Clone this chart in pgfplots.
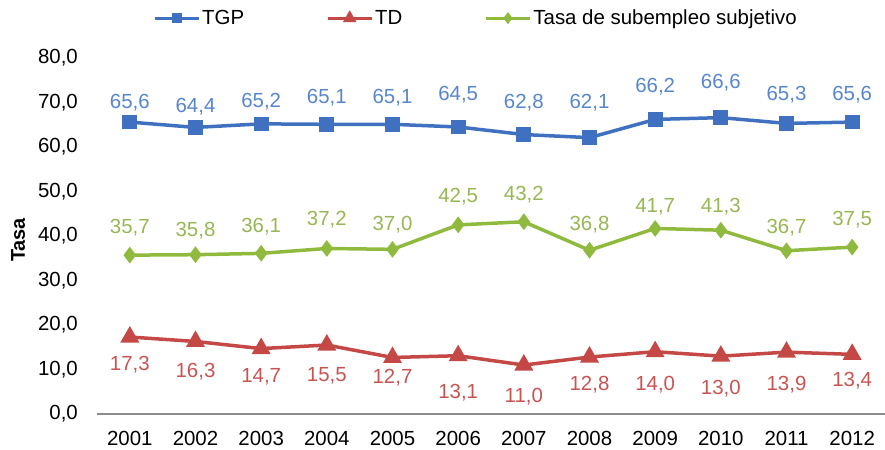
\documentclass[border=0pt]{standalone}
\usepackage{pgfplots}
\usepackage{pgfplotstable}
\pgfplotsset{compat=1.18}
\usepackage{fontspec}
\setmainfont{Liberation Sans}
\definecolor{tgp}{RGB}{64,112,192}
\definecolor{tgplab}{RGB}{88,134,204}
\definecolor{td}{RGB}{196,72,70}
\definecolor{tdlab}{RGB}{200,84,82}
\definecolor{sub}{RGB}{144,186,62}
\definecolor{sublab}{RGB}{152,182,84}

\pgfplotstableread{
x y ly
0 65.6 69.9
1 64.4 69.0
2 65.2 70.1
3 65.1 71.0
4 65.1 71.0
5 64.5 71.7
6 62.8 69.9
7 62.1 69.9
8 66.2 73.5
9 66.6 74.4
10 65.3 71.7
11 65.6 71.7
}\tgp

\pgfplotstableread{
x y ly
0 17.3 11.0
1 16.3 9.4
2 14.7 8.3
3 15.5 8.5
4 12.7 8.1
5 13.1 4.9
6 11.0 4.0
7 12.8 6.5
8 14.0 6.5
9 13.0 5.6
10 13.9 6.5
11 13.4 7.4
}\td

\pgfplotstableread{
x y ly
0 35.7 41.8
1 35.8 41.3
2 36.1 42.2
3 37.2 43.6
4 37.0 42.5
5 42.5 48.8
6 43.2 49.2
7 36.8 42.5
8 41.7 46.5
9 41.3 46.5
10 36.7 41.8
11 37.5 43.6
}\sub

\begin{document}
\begin{tikzpicture}
\useasboundingbox (0,0) rectangle (885bp,450bp);
\begin{axis}[
  at={(97bp,36bp)}, anchor=south west,
  scale only axis, width=788bp, height=356bp,
  xmin=-0.5, xmax=11.5, ymin=0, ymax=80,
  axis x line*=bottom, axis y line*=left,
  x axis line style={-, draw={rgb,255:red,140;green,140;blue,140}, line width=2bp},
  y axis line style={draw=none},
  xtick={0,...,11},
  xticklabels={2001,2002,2003,2004,2005,2006,2007,2008,2009,2010,2011,2012},
  ytick={0,10,...,80},
  major tick length=0pt,
  xticklabel style={font=\fontsize{20.5}{24}\selectfont, inner sep=0pt, anchor=north, yshift=-17bp},
  yticklabel style={font=\fontsize{20.5}{24}\selectfont, inner sep=0pt, anchor=east, xshift=-19bp},
  /pgf/number format/use comma,
  /pgf/number format/fixed,
  /pgf/number format/fixed zerofill,
  /pgf/number format/precision=1,
  /pgf/number format/assume math mode=true,
  legend columns=3,
  legend style={at={(axis description cs:0.481,1.112)}, anchor=center, draw=none, fill=none,
    font=\fontsize{20.5}{24}\selectfont,
    /tikz/every even column/.append style={column sep=80bp}},
  legend image code/.code={\draw[mark repeat=2,mark phase=2,line width=3bp,/tikz/every mark/.append style={scale=0.65}] plot coordinates {(0bp,0bp) (22bp,0bp) (44bp,0bp)};},
]
\addplot[color=tgp, line width=3.5bp, mark=square*, mark size=5.6bp, mark options={solid}] table[x=x,y=y] {\tgp};
\addlegendentry{TGP}
\addplot[color=td, line width=3.5bp, mark=triangle*, mark size=7.5bp, mark options={solid}] table[x=x,y=y] {\td};
\addlegendentry{TD}
\addplot[color=sub, line width=3.5bp, mark=diamond*, mark size=5.5bp, mark options={solid}] table[x=x,y=y] {\sub};
\addlegendentry{Tasa de subempleo subjetivo}

\addplot[forget plot, draw=none, mark=none, nodes near coords, point meta=explicit,
  nodes near coords style={anchor=center, inner sep=0pt, text=tgplab, font=\fontsize{20.5}{24}\selectfont}]
  table[x=x, y=ly, meta=y] {\tgp};
\addplot[forget plot, draw=none, mark=none, nodes near coords, point meta=explicit,
  nodes near coords style={anchor=center, inner sep=0pt, text=tdlab, font=\fontsize{20.5}{24}\selectfont}]
  table[x=x, y=ly, meta=y] {\td};
\addplot[forget plot, draw=none, mark=none, nodes near coords, point meta=explicit,
  nodes near coords style={anchor=center, inner sep=0pt, text=sublab, font=\fontsize{20.5}{24}\selectfont}]
  table[x=x, y=ly, meta=y] {\sub};
\end{axis}
\node[rotate=90, anchor=center, inner sep=0pt, font=\bfseries\fontsize{20}{24}\selectfont]
  at (18bp,210bp) {Tasa};
\end{tikzpicture}
\end{document}
